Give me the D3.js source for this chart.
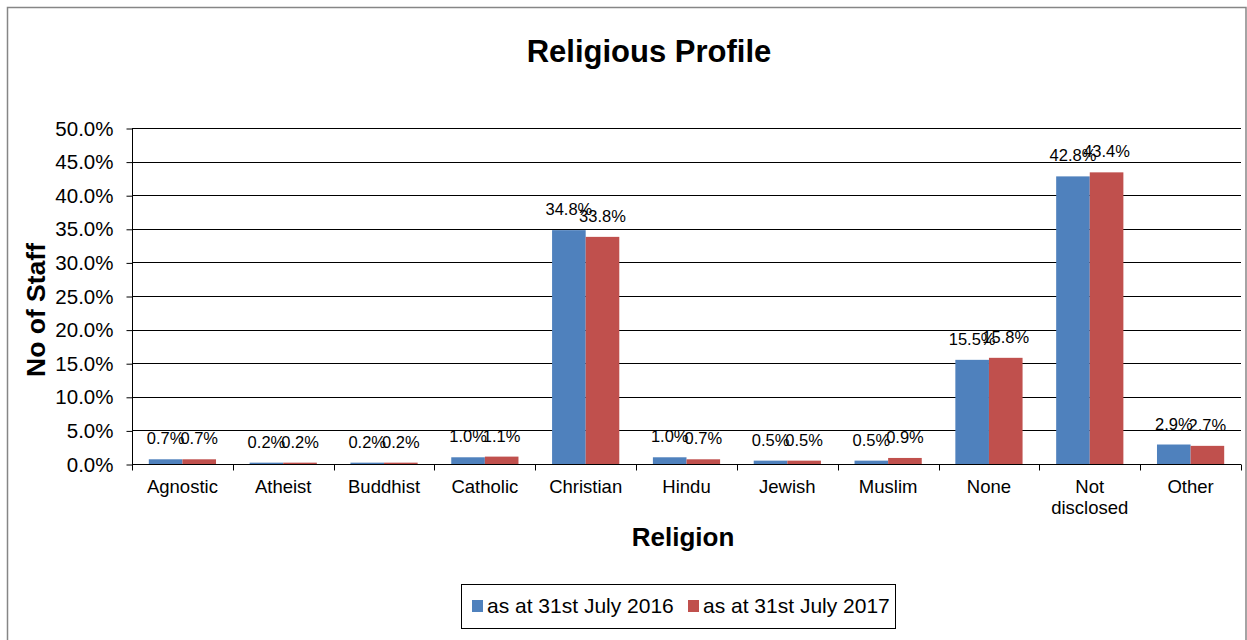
<!DOCTYPE html>
<html>
<head>
<meta charset="utf-8">
<script src="https://cdn.jsdelivr.net/npm/d3@7"></script>
<style>
  html, body { margin: 0; padding: 0; background: #fff; }
  svg { display: block; font-family: "Liberation Sans", Arial, sans-serif; }
</style>
</head>
<body>
<svg id="chart" width="1247" height="640"></svg>
<script>
// Staff religion shares, two snapshot dates
const religions = ["Agnostic", "Atheist", "Buddhist", "Catholic", "Christian", "Hindu",
  "Jewish", "Muslim", "None", "Not disclosed", "Other"];
const series2016 = [0.7, 0.2, 0.2, 1.0, 34.8, 1.0, 0.5, 0.5, 15.5, 42.8, 2.9];
const series2017 = [0.7, 0.2, 0.2, 1.1, 33.8, 0.7, 0.5, 0.9, 15.8, 43.4, 2.7];
const seriesNames = ["as at 31st July 2016", "as at 31st July 2017"];
const seriesColors = ["#4F81BD", "#C0504D"];
const yTicks = [0, 5, 10, 15, 20, 25, 30, 35, 40, 45, 50];

const svg = d3.select("#chart");
const plot = { left: 132, right: 1241, top: 128, bottom: 464 };

// outer chart frame
svg.append("rect")
  .attr("x", 7.5).attr("y", 7.5)
  .attr("width", 1238.5).attr("height", 640)
  .attr("fill", "#fff").attr("stroke", "#868686").attr("stroke-width", 1.5);

const x = d3.scaleBand().domain(religions).range([plot.left, plot.right]).paddingInner(0).paddingOuter(0);
const inner = d3.scaleBand().domain([0, 1]).range([0, x.bandwidth()]).paddingInner(0).paddingOuter(0.5);
const y = d3.scaleLinear().domain([0, 50]).range([plot.bottom, plot.top]);

// horizontal gridlines
svg.append("g").selectAll("line").data(yTicks.filter(d => d > 0)).join("line")
  .attr("x1", plot.left).attr("x2", plot.right)
  .attr("y1", d => Math.round(y(d)) + 0.5).attr("y2", d => Math.round(y(d)) + 0.5)
  .attr("stroke", "#000").attr("stroke-width", 1);

// y axis
const yAxis = d3.axisLeft(y).tickValues(yTicks).tickFormat(d => d.toFixed(1) + "%").tickSize(6).tickPadding(13);
const gy = svg.append("g").attr("transform", `translate(${plot.left + 0.5},0.5)`).call(yAxis);
gy.select(".domain").attr("stroke", "#000").attr("d", `M0,${plot.top}V${plot.bottom}`);
gy.selectAll(".tick line").attr("stroke", "#000");
gy.selectAll(".tick text").attr("font-size", 20.5).attr("fill", "#000")
  .attr("font-family", "'Liberation Sans', Arial, sans-serif");

// x axis
const xAxis = d3.axisBottom(x).tickSize(0).tickFormat("");
const gx = svg.append("g").attr("transform", `translate(0,${plot.bottom + 0.5})`).call(xAxis);
gx.select(".domain").attr("stroke", "#000").attr("d", `M${plot.left},0H${plot.right}`);
// tick marks on category boundaries
gx.append("g").selectAll("line").data(d3.range(religions.length + 1)).join("line")
  .attr("x1", i => Math.round(plot.left + i * x.step()) + 0.5)
  .attr("x2", i => Math.round(plot.left + i * x.step()) + 0.5)
  .attr("y1", 0).attr("y2", 6).attr("stroke", "#000");
// category labels (wrapped)
const catLabel = svg.append("g").selectAll("text").data(religions).join("text")
  .attr("x", d => x(d) + x.bandwidth() / 2)
  .attr("y", 493)
  .attr("text-anchor", "middle").attr("font-size", 18.5).attr("fill", "#000");
catLabel.each(function (d) {
  const words = d === "Not disclosed" ? ["Not", "disclosed"] : [d];
  const t = d3.select(this);
  words.forEach((w, i) => t.append("tspan").attr("x", x(d) + x.bandwidth() / 2).attr("dy", i === 0 ? 0 : 21).text(w));
});

// bars
const data = religions.map((r, i) => ({ r, vals: [series2016[i], series2017[i]] }));
const groups = svg.append("g").selectAll("g").data(data).join("g")
  .attr("transform", d => `translate(${x(d.r)},0)`);
groups.selectAll("rect").data(d => d.vals.map((v, k) => ({ v, k }))).join("rect")
  .attr("x", d => inner(d.k))
  .attr("width", inner.bandwidth())
  .attr("y", d => y(d.v))
  .attr("height", d => plot.bottom - y(d.v))
  .attr("fill", d => seriesColors[d.k]);

// value labels
groups.selectAll("text").data(d => d.vals.map((v, k) => ({ v, k }))).join("text")
  .attr("x", d => inner(d.k) + inner.bandwidth() / 2)
  .attr("y", d => y(d.v) - 15)
  .attr("text-anchor", "middle").attr("font-size", 16.5).attr("fill", "#000")
  .text(d => d.v.toFixed(1) + "%");

// titles
svg.append("text").attr("x", 649).attr("y", 62).attr("text-anchor", "middle")
  .attr("font-size", 31).attr("font-weight", "bold").attr("fill", "#000").text("Religious Profile");
svg.append("text").attr("x", 683).attr("y", 546).attr("text-anchor", "middle")
  .attr("font-size", 26).attr("font-weight", "bold").attr("fill", "#000").text("Religion");
svg.append("text").attr("transform", "translate(45,310) rotate(-90)").attr("text-anchor", "middle")
  .attr("font-size", 26.5).attr("font-weight", "bold").attr("fill", "#000").text("No of Staff");

// legend
const lg = svg.append("g");
lg.append("rect").attr("x", 461.5).attr("y", 584.5).attr("width", 434).attr("height", 44)
  .attr("fill", "#fff").attr("stroke", "#000").attr("stroke-width", 1);
const legendX = [472, 688];
seriesNames.forEach((name, k) => {
  lg.append("rect").attr("x", legendX[k]).attr("y", 600).attr("width", 11).attr("height", 12)
    .attr("fill", seriesColors[k]);
  lg.append("text").attr("x", legendX[k] + 15).attr("y", 613).attr("font-size", 21)
    .attr("fill", "#000").text(name);
});
</script>
</body>
</html>
